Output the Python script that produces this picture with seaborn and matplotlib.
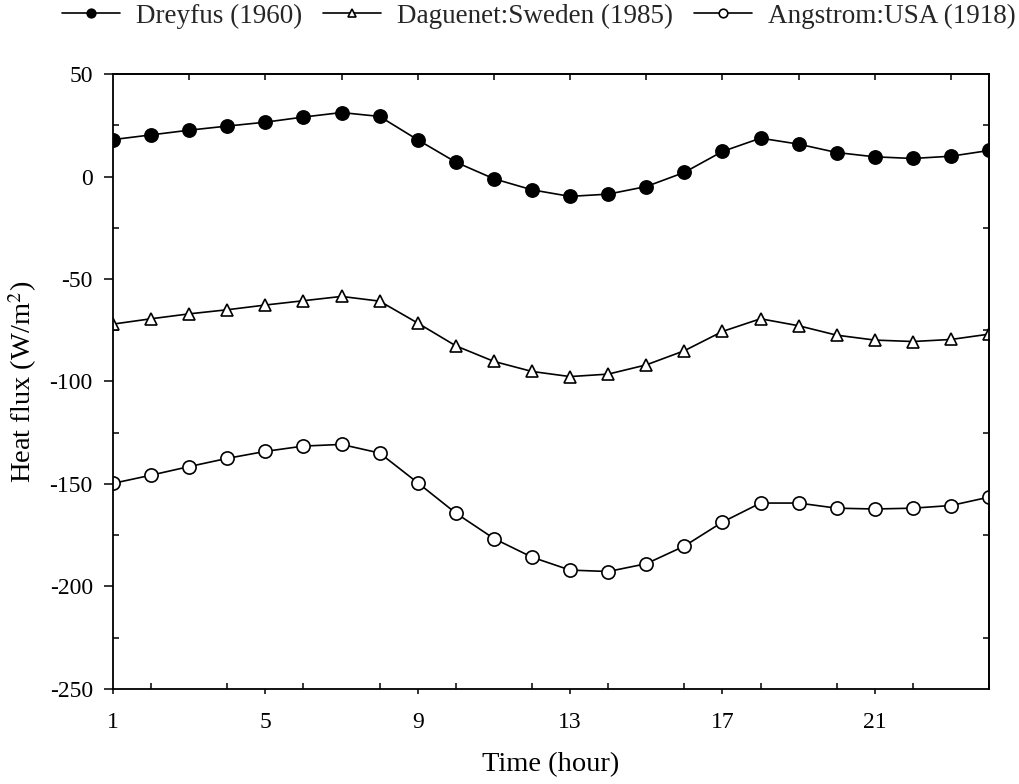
import numpy as np
import pandas as pd
import matplotlib
matplotlib.use("Agg")
import matplotlib.pyplot as plt
from matplotlib.ticker import MultipleLocator, NullLocator
import seaborn as sns

hours = list(range(1, 25))
dreyfus = [18, 20.3, 22.6, 24.6, 26.5, 29, 31.2, 29.3, 17.9, 7, -1.1, -6.5,
           -9.7, -8.6, -4.9, 2, 12.2, 18.7, 15.8, 11.7, 9.6, 8.8, 9.9, 12.7]
daguenet = [-72, -69.4, -67, -65, -62.7, -60.6, -58.5, -60.8, -71.5, -82.6, -90.2, -95.1,
            -97.6, -96.4, -91.9, -85, -75.6, -69.4, -72.8, -77.4, -79.8, -80.5, -79.5, -76.9]
angstrom = [-149.7, -145.7, -141.5, -137.5, -134.1, -131.5, -130.7, -134.9, -149.4, -164.2, -176.6, -185.7,
            -192, -192.7, -188.9, -180.3, -168.6, -159.3, -159.3, -161.8, -162.2, -161.8, -160.5, -156.4]
labels = ["Dreyfus (1960)", "Daguenet:Sweden (1985)", "Angstrom:USA (1918)"]
xticks = [1, 5, 9, 13, 17, 21]
yticks = [50, 0, -50, -100, -150, -200, -250]
top_ticks = [3, 5, 7, 9, 11, 13, 15, 17, 19, 21, 23]
right_ticks = [25, -25, -75, -125, -175, -225]

sns.set_theme(style="ticks")
plt.rcParams['font.family'] = ['Liberation Serif', 'DejaVu Serif']
plt.rcParams['mathtext.fontset'] = 'stix'

fig = plt.figure(figsize=(10.19, 7.84), dpi=100)
ax = fig.add_axes([0.1109, 0.1212, 0.8597, 0.7844])

styles = [
    dict(marker='o', markerfacecolor='black', markeredgecolor='black'),
    dict(marker='^', markerfacecolor='white', markeredgecolor='black'),
    dict(marker='o', markerfacecolor='white', markeredgecolor='black'),
]
sizes = [9.5, 8.5, 9.5]
for vals, lab, st, ms in zip([dreyfus, daguenet, angstrom], labels, styles, sizes):
    df = pd.DataFrame({"hour": hours, "flux": vals})
    sns.lineplot(data=df, x="hour", y="flux", ax=ax, color='black', linewidth=1.2,
                 markersize=ms, markeredgewidth=1.2, label=lab, **st)

ax.set_xlim(1, 24)
ax.set_ylim(-250, 50)
ax.set_xticks(xticks)
ax.set_xticklabels([str(t) for t in xticks])
ax.xaxis.set_minor_locator(MultipleLocator(2))
ax.set_yticks(yticks)
ax.set_yticklabels([str(t) for t in yticks])
ax.yaxis.set_minor_locator(MultipleLocator(25))
ax.tick_params(which='both', top=False, right=False, width=1.1, color='black', labelcolor='black')
ax.tick_params(axis='x', which='major', direction='out', length=3.8, labelsize=17, pad=12.5)
ax.tick_params(axis='y', which='major', direction='out', length=6.5, labelsize=17, pad=8)
ax.tick_params(which='minor', direction='in', length=4.5)
for s in ax.spines.values():
    s.set_visible(True)
    s.set_linewidth(1.3)
    s.set_color('black')

secx = ax.secondary_xaxis('top')
secx.set_xticks(top_ticks)
secx.xaxis.set_minor_locator(NullLocator())
secx.tick_params(direction='in', length=4.5, width=1.1, labeltop=False, color='black')
secx.spines['top'].set_linewidth(1.3)

secy = ax.secondary_yaxis('right')
secy.set_yticks(right_ticks)
secy.yaxis.set_minor_locator(NullLocator())
secy.tick_params(direction='in', length=4.5, width=1.1, labelright=False, color='black')
secy.spines['right'].set_linewidth(1.3)

ax.set_xlabel("Time (hour)", fontsize=20.5, labelpad=14, color='black')
ax.set_ylabel("Heat flux (W/m$^{2}$)", fontsize=20.5, labelpad=8, color='black')

handles, labs = ax.get_legend_handles_labels()
ax.legend(handles, labs, loc='center right', bbox_to_anchor=(0.997, 1 - 16 / 784), bbox_transform=fig.transFigure,
          ncol=3, frameon=False, fontsize=19.5, markerscale=0.65, handlelength=2.15,
          columnspacing=0.75, handletextpad=0.6, borderaxespad=0.0, borderpad=0.0)

fig.savefig("out.png", dpi=100)
